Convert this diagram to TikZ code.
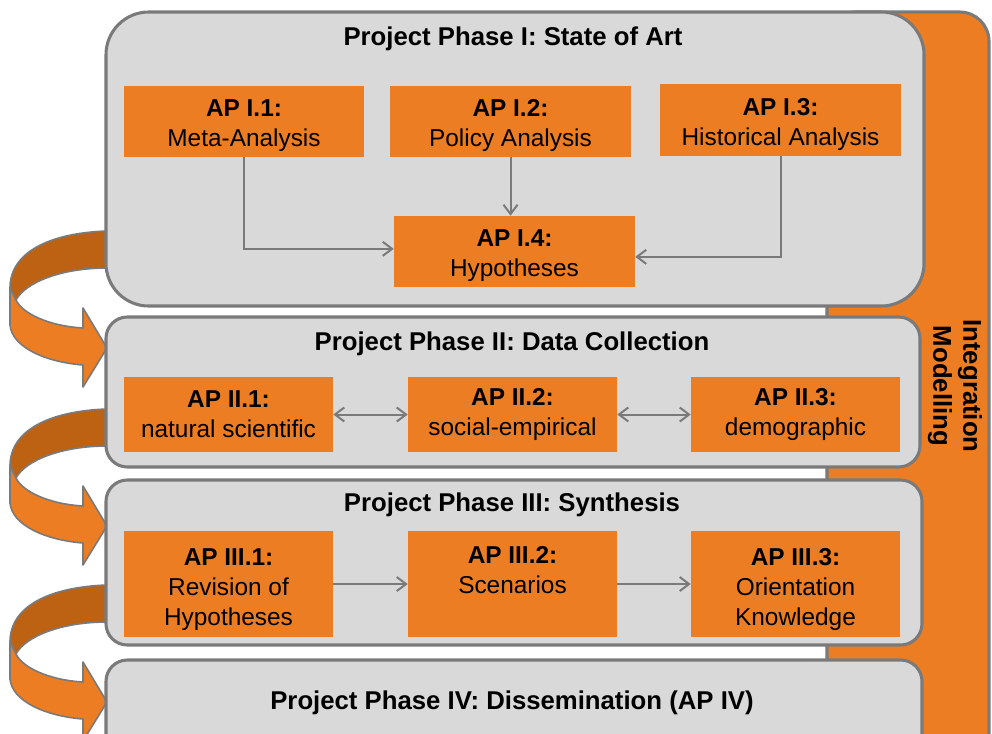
\documentclass[tikz,border=0pt]{standalone}
\usepackage{fontspec}
\setmainfont{Liberation Sans}
\usetikzlibrary{arrows.meta}
\definecolor{org}{HTML}{ED7D22}
\definecolor{dorg}{HTML}{BD6213}
\definecolor{pfill}{HTML}{D9D9D9}
\definecolor{bgray}{HTML}{7A7A7A}
\newcommand\tsA{\rule{0pt}{19.5pt}}
\newcommand\tsB{\rule{0pt}{21pt}}
\begin{document}
\begin{tikzpicture}[x=0.75pt,y=-0.75pt,
  phasebox/.style={draw=bgray, fill=pfill, line width=2.3pt},
  apbox/.style={fill=org, inner sep=0pt, align=center, font=\fontsize{18.3}{22.5}\selectfont},
  head/.style={font=\bfseries\fontsize{19.3}{23}\selectfont, anchor=base, inner sep=0pt},
  conn/.style={draw=bgray, line width=1.5pt, -{Straight Barb[length=7pt,width=10.5pt]}},
  dconn/.style={draw=bgray, line width=1.5pt, {Straight Barb[length=7pt,width=10.5pt]}-{Straight Barb[length=7pt,width=10.5pt]}},
  ribbon/.style={draw=bgray, line width=1.2pt, line join=round}]
\useasboundingbox (0,0) rectangle (992,733);
\clip (0,0) rectangle (992,733);
\fill[white] (0,0) rectangle (992,733);

% integration bar
\draw[draw=bgray, fill=org, line width=2.3pt, rounded corners=22pt] (827,12) -- (989,12) -- (989,790) -- (827,790) -- cycle;

% ribbons
\foreach \s in {0,178,354}{
  \begin{scope}[shift={(0,\s)}]
    \draw[ribbon, fill=dorg] (135,231) -- (107,231) .. controls (50,233) and (10,252) .. (10,288) -- (16,300) .. controls (25,283) and (60,268) .. (107,268) -- (135,268) -- cycle;
    \draw[ribbon, fill=org] (10,288) -- (10,325) .. controls (12,347) and (45,362) .. (83,365) -- (83,387) -- (107,348) -- (83,308) -- (83,328) .. controls (48,326) and (22,313) .. (16,300) -- cycle;
  \end{scope}
}

% phase boxes
\draw[phasebox, rounded corners=32pt] (106,12) rectangle (924,306);
\draw[phasebox, rounded corners=16pt] (106,317) rectangle (920,467);
\draw[phasebox, rounded corners=16pt] (106,480) rectangle (922,645);
\draw[phasebox, rounded corners=16pt] (106,660) rectangle (922,790);

% headers
\node[head] (h1) at (513,45) {Project Phase I: State of Art};
\node[head] (h2) at (512,350) {Project Phase II: Data Collection};
\node[head] (h3) at (512,511) {Project Phase III: Synthesis};
\node[head] (h4) at (512,709) {Project Phase IV: Dissemination (AP IV)};

% AP boxes
\node[apbox, minimum width=180pt, minimum height=53.25pt] (i1) at (244,121.5) {\tsA\textbf{AP I.1:}\\Meta-Analysis};
\node[apbox, minimum width=180.75pt, minimum height=53.25pt] (i2) at (510.5,121.5) {\tsA\textbf{AP I.2:}\\Policy Analysis};
\node[apbox, minimum width=180.75pt, minimum height=54pt] (i3) at (780.5,120) {\tsA\textbf{AP I.3:}\\Historical Analysis};
\node[apbox, minimum width=180.75pt, minimum height=53.25pt] (i4) at (514.5,251.5) {\tsA\textbf{AP I.4:}\\Hypotheses};

\node[apbox, minimum width=156.75pt, minimum height=56.25pt] (ii1) at (228.5,414.5) {\textbf{AP II.1:}\\natural scientific};
\node[apbox, minimum width=156.75pt, minimum height=56.25pt] (ii2) at (512.5,414.5) {\textbf{AP II.2:}\\social-empirical};
\node[apbox, minimum width=156.75pt, minimum height=56.25pt] (ii3) at (795.5,414.5) {\textbf{AP II.3:}\\demographic};

\node[apbox, minimum width=156.75pt, minimum height=79.5pt] (iii1) at (228.5,584) {\tsB\textbf{AP III.1:}\\Revision of\\Hypotheses};
\node[apbox, minimum width=156.75pt, minimum height=79.5pt] (iii2) at (512.5,584) {\tsB\textbf{AP III.2:}\\Scenarios\\\strut};
\node[apbox, minimum width=156.75pt, minimum height=79.5pt] (iii3) at (795.5,584) {\tsB\textbf{AP III.3:}\\Orientation\\Knowledge};

% connectors
\draw[conn] (i1.south) |- ([yshift=2pt]i4.west);
\draw[conn] (i2.south) -- (i2.south |- i4.north);
\draw[conn] (i3.south) |- ([yshift=-4pt]i4.east);
\draw[dconn] (ii1) -- (ii2);
\draw[dconn] (ii2) -- (ii3);
\draw[conn] (iii1) -- (iii2);
\draw[conn] (iii2) -- (iii3);

% integration label
\node[font=\bfseries\fontsize{19.3}{22.5}\selectfont, rotate=-90, align=center] (integ) at (955,386) {Integration\\Modelling};
\end{tikzpicture}
\end{document}
